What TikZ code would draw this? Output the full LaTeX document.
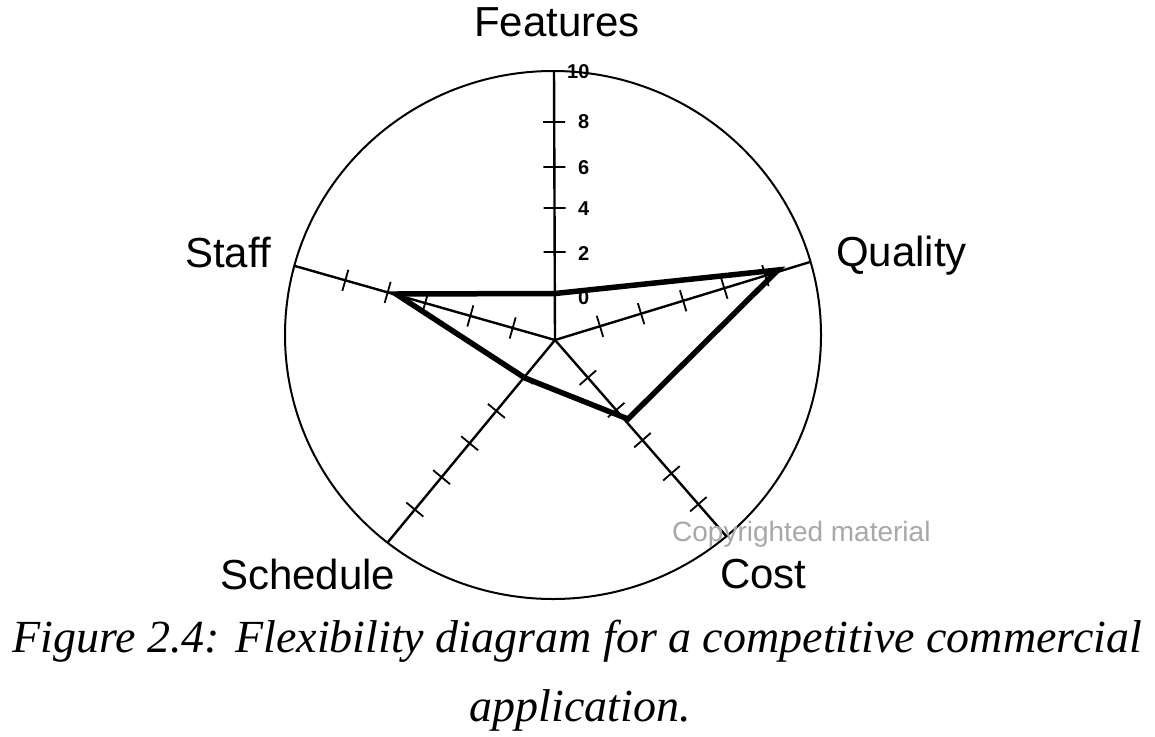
\documentclass[tikz,border=0pt]{standalone}
\usepackage{fontspec}
\setmainfont{Liberation Sans}
\newfontfamily\capfont{Liberation Serif}
\usetikzlibrary{calc}
\definecolor{wmgray}{RGB}{168,168,168}
\begin{document}
\begin{tikzpicture}[x=1pt,y=-1pt,
  axisline/.style={line width=2.4pt},
  rim/.style={line width=2pt},
  tickmark/.style={line width=1.8pt},
  profile/.style={line width=5.5pt, line join=miter, miter limit=20},
  axlabel/.style={font=\fontsize{42}{48}\selectfont, inner sep=0pt, anchor=base west},
  scalelabel/.style={font=\fontsize{20}{24}\selectfont\bfseries, inner sep=0pt, anchor=west},
  wmark/.style={font=\fontsize{28}{32}\selectfont, text=wmgray, inner sep=0pt, anchor=base west},
  capline/.style={font=\capfont\itshape\fontsize{46}{52}\selectfont, inner sep=0pt, anchor=base},
]
\useasboundingbox (0,0) rectangle (1155,736);
\fill[white] (0,0) rectangle (1155,736);

% rim
\draw[rim] (553,335) ellipse [x radius=268, y radius=264];

% axes
\coordinate (C) at (555,340);
\coordinate (eF) at (554,70);
\coordinate (eS) at (295,266);
\coordinate (eQ) at (810,262);
\coordinate (eSc) at (388,542);
\coordinate (eCo) at (727,537);
\foreach \e in {eF,eS,eQ,eSc,eCo} \draw[axisline] (C) -- (\e);

% ticks
\foreach \d in {88,132,173,218}
  \draw[tickmark] ($(C)!\d pt!(eF)!11pt!90:(eF)$) -- ($(C)!\d pt!(eF)!11pt!-90:(eF)$);
\foreach \d in {44,88,135,174,218}
  \draw[tickmark] ($(C)!\d pt!(eS)!11pt!90:(eS)$) -- ($(C)!\d pt!(eS)!11pt!-90:(eS)$);
\foreach \d in {47,90,134,177,220}
  \draw[tickmark] ($(C)!\d pt!(eQ)!11pt!90:(eQ)$) -- ($(C)!\d pt!(eQ)!11pt!-90:(eQ)$);
\foreach \d in {48,92,134,178,220}
  \draw[tickmark] ($(C)!\d pt!(eSc)!11pt!90:(eSc)$) -- ($(C)!\d pt!(eSc)!11pt!-90:(eSc)$);
\foreach \d in {50,93,133,177,218}
  \draw[tickmark] ($(C)!\d pt!(eCo)!11pt!90:(eCo)$) -- ($(C)!\d pt!(eCo)!11pt!-90:(eCo)$);

% profile
\coordinate (pF) at (555,293.5);
\coordinate (pQ) at (778,270);
\coordinate (pCo) at (628,419);
\coordinate (pSc) at (525,378);
\coordinate (pS) at (396,294);
\draw[profile] (pF) -- (pQ) -- (pCo) -- (pSc) -- (pS) -- cycle;

% scale labels
\node[scalelabel] (l10) at (567,72) {10};
\node[scalelabel] (l8) at (578,122) {8};
\node[scalelabel] (l6) at (578,168) {6};
\node[scalelabel] (l4) at (578,209) {4};
\node[scalelabel] (l2) at (578,254) {2};
\node[scalelabel] (l0) at (578,298) {0};

% axis labels
\node[axlabel, anchor=base] (tF) at (557,36) {Features};
\node[axlabel] (tS) at (185,267) {Staff};
\node[axlabel] (tQ) at (836,266) {Quality};
\node[axlabel] (tSc) at (220,589) {Schedule};
\node[axlabel] (tCo) at (720,588) {Cost};

% watermark
\node[wmark] (wm) at (672,541) {Copyrighted material};

% caption
\node[capline] (cap1) at (577,652) {Figure 2.4: Flexibility diagram for a competitive commercial};
\node[capline] (cap2) at (580,721) {application.};
\end{tikzpicture}
\end{document}
